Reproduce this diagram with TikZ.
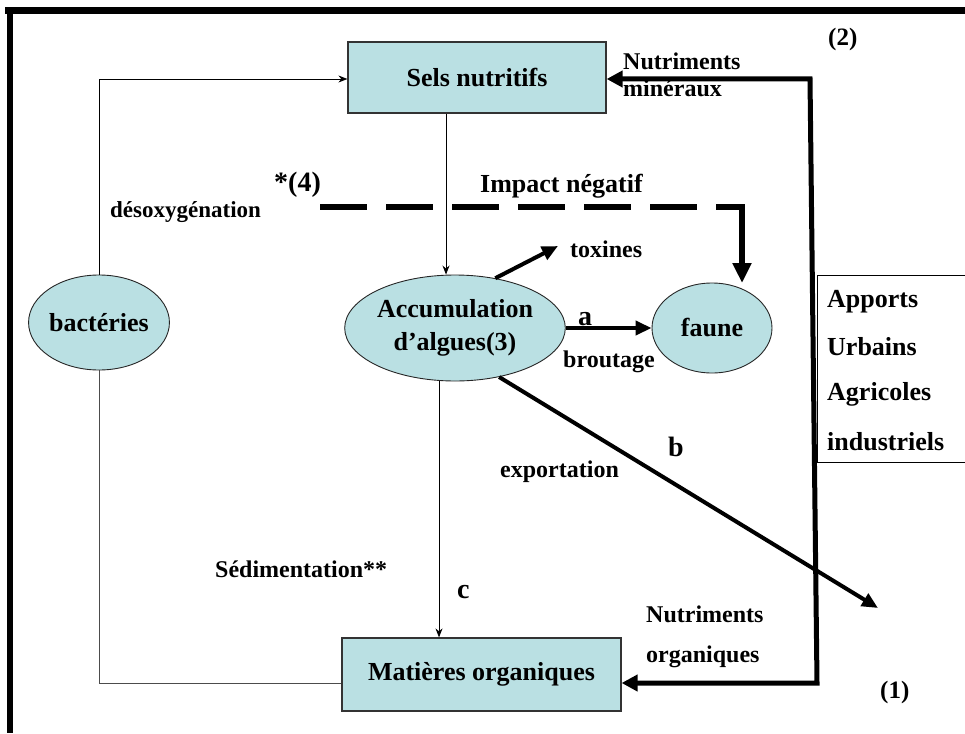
\documentclass[tikz,border=0pt]{standalone}
\usepackage{fontspec}
\setmainfont{Liberation Serif}
\usetikzlibrary{shapes.geometric,arrows.meta}
\definecolor{boxfill}{RGB}{186,224,227}
\begin{document}
\begin{tikzpicture}[x=1pt,y=-1pt,
  every node/.style={font=\bfseries},
  lbl/.style={anchor=base west,inner sep=0pt,font=\bfseries\fontsize{24}{28}\selectfont},
  biglbl/.style={anchor=base west,inner sep=0pt,font=\bfseries\fontsize{28}{32}\selectfont},
  rbox/.style={draw=black!80,line width=1.2pt,fill=boxfill,inner sep=0pt,font=\bfseries\fontsize{26}{30}\selectfont},
  ebox/.style={ellipse,draw=black!85,line width=0.9pt,fill=boxfill,inner sep=0pt,align=center,font=\bfseries\fontsize{26}{33}\selectfont},
  thinarr/.style={line width=0.9pt,-{Stealth[length=9pt,width=7pt]}},
  thickarr/.style={line width=4pt,-{Triangle[length=16pt,width=14pt]}},
  bigline/.style={line width=5pt,line join=miter},
  dashline/.style={line width=6pt,line cap=butt,dash pattern=on 47pt off 19pt},
]
\useasboundingbox (0,0) rectangle (965,733);
% frame
\fill[black] (5,7) rectangle (965,14);
\fill[black] (7,7) rectangle (13,733);

% nodes
\node[rbox,minimum width=258pt,minimum height=71pt] (sels) at (477,77.5) {Sels nutritifs};
\node[rbox,minimum width=279pt,minimum height=73pt] (mat) at (481.5,674.5) {Matières organiques};
\node[ebox,minimum width=196pt,minimum height=106pt] (acc) at (455,328) {Accumulation\\d’algues(3)};
\node[ebox,minimum width=120pt,minimum height=90pt] (faune) at (712,328) {faune};
\node[ebox,minimum width=106pt,minimum height=95pt] (bac) at (99,322.5) {\raisebox{-5pt}{bactéries}};

% apports box
\coordinate (apA) at (965,275);
\coordinate (apB) at (817,275);
\coordinate (apC) at (817,462);
\coordinate (apD) at (965,462);
\draw[line width=1pt] (apA) -- (apB) -- (apC) -- (apD);
\node[lbl,font=\bfseries\fontsize{26}{30}\selectfont] (t1) at (827,307) {Apports};
\node[lbl,font=\bfseries\fontsize{26}{30}\selectfont] (t2) at (827,355) {Urbains};
\node[lbl,font=\bfseries\fontsize{26}{30}\selectfont] (t3) at (827,400) {Agricoles};
\node[lbl,font=\bfseries\fontsize{26}{30}\selectfont] (t4) at (827,450) {industriels};

% thin connectors
\draw[thinarr] (bac.north) |- ([yshift=-1.5pt]sels.west);
\draw[line width=0.9pt,black!70] (bac.south) |- ([yshift=-8.5pt]mat.west);
\draw[thinarr] ([xshift=-31pt]sels.south) -- ([xshift=-31pt]sels.south |- acc.north);
\draw[thinarr] ([xshift=-16pt]acc.south) -- ([xshift=-16pt]acc.south |- mat.north);

% thick arrows
\coordinate (toxend) at (558,246);
\coordinate (expend) at (878,608);
\draw[thickarr] (acc.51) -- (toxend);
\draw[thickarr] (acc.east) -- (faune.west);
\draw[thickarr] (acc.-48) -- (expend);

% dashed impact
\coordinate (dstart) at (320,207);
\coordinate (dmid) at (697,207);
\coordinate (dsolid) at (716,207);
\coordinate (dend) at (742,283);
\draw[dashline] (dstart) -- (dmid);
\draw[line width=6pt,line join=miter,-{Triangle[length=20pt,width=18pt]}] (dsolid) -| (dend);

% big nutrient loop
\coordinate (ctop) at (810,79);
\coordinate (cbot) at (817,683);
\draw[bigline,{Triangle[length=16pt,width=16pt]}-{Triangle[length=16pt,width=16pt]}]
  ([yshift=-1.5pt]sels.east) -- (ctop) -- (cbot) -- ([yshift=-8.5pt]mat.east);

% labels
\node[lbl,font=\bfseries\fontsize{25}{28}\selectfont] (l2) at (828,46) {(2)};
\node[lbl] (nm1) at (623,70) {Nutriments};
\node[lbl] (nm2) at (623,97) {minéraux};
\node[lbl,font=\bfseries\fontsize{23}{28}\selectfont] (deso) at (110,217) {désoxygénation};
\node[biglbl] (l4) at (274,191) {*(4)};
\node[lbl,font=\bfseries\fontsize{26}{30}\selectfont] (imp) at (480,192) {Impact négatif};
\node[lbl] (tox) at (570,257) {toxines};
\node[biglbl] (la) at (578,325) {a};
\node[lbl] (brout) at (563,367) {broutage};
\node[biglbl] (lb) at (668,456) {b};
\node[lbl] (exp) at (500,477) {exportation};
\node[lbl] (sed) at (215,577) {Sédimentation**};
\node[biglbl] (lc) at (457,598) {c};
\node[lbl] (no1) at (646,622) {Nutriments};
\node[lbl] (no2) at (646,662) {organiques};
\node[lbl,font=\bfseries\fontsize{25}{28}\selectfont] (l1) at (880,698) {(1)};
\end{tikzpicture}
\end{document}
